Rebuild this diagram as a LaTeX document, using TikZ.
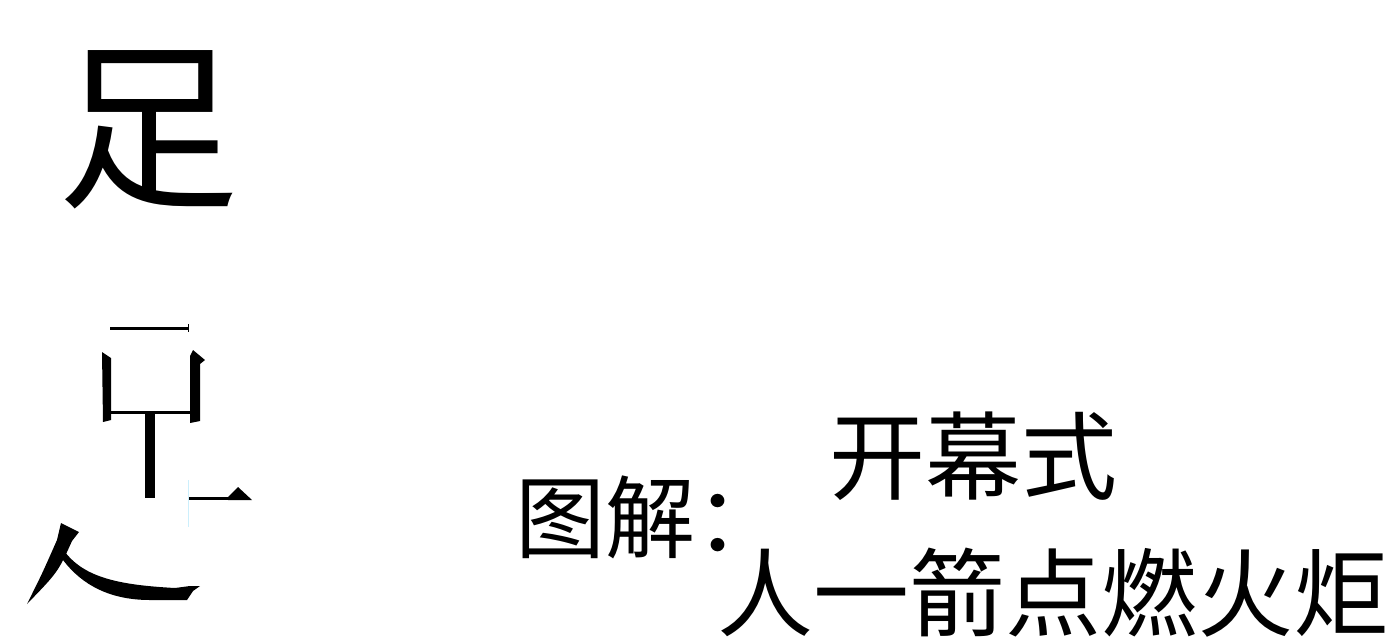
\documentclass[tikz,border=0pt]{standalone}
\usepackage{fontspec}
\newfontfamily\cjk{Noto Sans CJK SC}
\begin{document}
\begin{tikzpicture}[x=1pt, y=-1pt]
        \tikzstyle{ink} = [fill=black, draw=none]
        \tikzstyle{bar} = [draw, black, line width=3pt]
        \tikzstyle{big} = [inner sep=0pt, font=\cjk\fontsize{182pt}{182pt}\selectfont]
        \tikzstyle{txt} = [inner sep=0pt, font=\cjk\fontsize{96pt}{96pt}\selectfont]
        \useasboundingbox[fill=white] (0, 0) rectangle (1391, 643);

        \node[big] (zu) at (148, 130) {足};

        \draw[bar] (110, 328) -- (188, 328);
        \draw[line width=1pt] (188, 324) -- (188, 332);
        \path[ink] (102, 352) -- (111, 358) -- (111, 420) -- (103, 422) -- cycle;
        \path[ink] (190, 356) -- (193, 350) -- (205, 360) -- (200, 364) -- (200, 421) -- (190, 423) -- cycle;
        \draw[bar] (110, 412) -- (190, 412);
        \path[ink] (145, 412) rectangle (155, 498);
        \draw[bar] (188, 498) -- (240, 498);
        \path[ink] (228, 497) -- (238, 487) -- (252, 500) -- (228, 500) -- cycle;
        \draw[cyan!20, line width=1pt] (188, 480) -- (188, 527);
        \path[ink] (61, 523) -- (79, 532) -- (72, 541) .. controls (58, 572) .. (27, 604) .. controls (42, 574) .. (57, 540) -- cycle;
        \path[ink] (65, 552) .. controls (85, 578) and (120, 585) .. (175, 588) -- (190, 586) -- (200, 586) -- (193, 591) -- (187, 600) -- (150, 600) .. controls (110, 600) and (82, 585) .. (63, 560) -- cycle;

        \node[txt, font=\cjk\fontsize{90pt}{90pt}\selectfont, anchor=west] (tujie) at (515, 517) {图解：};
        \node[txt] (kaimu) at (973, 456) {开幕式};
        \node[txt] (dianhuo) at (1053, 593) {人一箭点燃火炬};
    \end{tikzpicture}
\end{document}
